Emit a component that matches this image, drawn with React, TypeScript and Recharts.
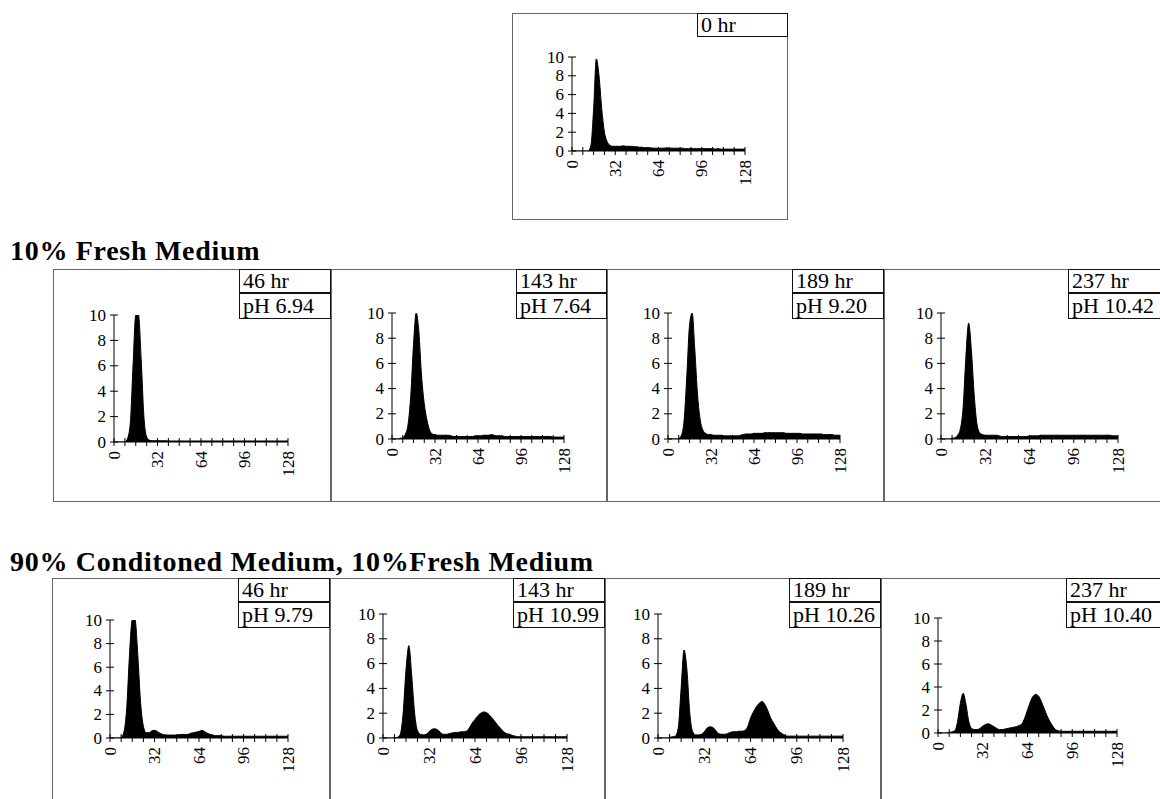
import { AreaChart, Area, XAxis, YAxis } from "recharts";

// channel number (x) shared by all histograms, step 2
const channels = [
  0, 2, 4, 6, 8, 10, 12, 14, 16, 18, 20, 22, 24, 26, 28, 30, 32, 34, 36, 38, 40, 42,
  44, 46, 48, 50, 52, 54, 56, 58, 60, 62, 64, 66, 68, 70, 72, 74, 76, 78, 80, 82, 84,
  86, 88, 90, 92, 94, 96, 98, 100, 102, 104, 106, 108, 110, 112, 114, 116, 118, 120,
  122, 124, 126, 128,
];

const xTicks = [0, 8, 16, 24, 32, 40, 48, 56, 64, 72, 80, 88, 96, 104, 112, 120, 128];
const yTicks = [0, 2, 4, 6, 8, 10];

// 0 hr
const hr0 = [
  0, 0, 0, 0, 0, 0, 0, 0.6,
  4.5, 9.8, 8, 4.5, 2, 1, 0.6, 0.5,
  0.5, 0.5, 0.5, 0.55, 0.5, 0.5, 0.5, 0.45,
  0.45, 0.4, 0.4, 0.35, 0.35, 0.35, 0.3, 0.3,
  0.3, 0.3, 0.3, 0.35, 0.3, 0.3, 0.3, 0.3,
  0.3, 0.3, 0.25, 0.25, 0.3, 0.25, 0.25, 0.25,
  0.25, 0.25, 0.25, 0.25, 0.25, 0.2, 0.25, 0.2,
  0.2, 0.2, 0.2, 0.2, 0.2, 0.2, 0.2, 0.2,
  0.2,
];

// 10% fresh medium
const fresh46 = [
  0, 0, 0, 0, 0, 0.3, 1.5, 6,
  10, 10, 6.5, 2, 0.4, 0.15, 0.1, 0.1,
  0.1, 0.1, 0.1, 0.1, 0.08, 0.08, 0.08, 0.08,
  0.08, 0.08, 0.08, 0.08, 0.08, 0.08, 0.08, 0.08,
  0.08, 0.08, 0.08, 0.08, 0.08, 0.08, 0.08, 0.08,
  0.08, 0.08, 0.08, 0.08, 0.08, 0.08, 0.08, 0.08,
  0.08, 0.08, 0.08, 0.08, 0.08, 0.08, 0.08, 0.08,
  0.08, 0.08, 0.08, 0.08, 0.08, 0.08, 0.08, 0.08,
  0.08,
];
const fresh143 = [
  0, 0, 0, 0.05, 0.1, 0.4, 1.2, 3.5,
  7.5, 10, 8.5, 5, 2.8, 1.5, 0.7, 0.4,
  0.35, 0.3, 0.3, 0.3, 0.3, 0.3, 0.25, 0.2,
  0.2, 0.2, 0.2, 0.2, 0.2, 0.2, 0.2, 0.25,
  0.25, 0.25, 0.3, 0.3, 0.3, 0.35, 0.3, 0.25,
  0.25, 0.25, 0.2, 0.2, 0.2, 0.2, 0.2, 0.2,
  0.2, 0.2, 0.2, 0.2, 0.2, 0.2, 0.2, 0.2,
  0.2, 0.2, 0.2, 0.2, 0.15, 0.15, 0.15, 0.15,
  0.15,
];
const fresh189 = [
  0, 0, 0, 0, 0.05, 0.3, 1.5, 5,
  9, 10, 7, 3.5, 1.5, 0.7, 0.45, 0.35,
  0.35, 0.3, 0.3, 0.3, 0.3, 0.25, 0.25, 0.25,
  0.25, 0.25, 0.25, 0.3, 0.35, 0.4, 0.4, 0.4,
  0.45, 0.45, 0.45, 0.45, 0.5, 0.5, 0.5, 0.5,
  0.5, 0.5, 0.5, 0.5, 0.45, 0.45, 0.45, 0.45,
  0.45, 0.45, 0.4, 0.4, 0.4, 0.4, 0.4, 0.4,
  0.4, 0.4, 0.35, 0.35, 0.35, 0.35, 0.3, 0.3,
  0.3,
];
const fresh237 = [
  0, 0, 0, 0, 0.05, 0.1, 0.3, 0.8,
  2.5, 6.5, 9.2, 7, 3.5, 1.2, 0.5, 0.35,
  0.3, 0.3, 0.3, 0.3, 0.3, 0.25, 0.2, 0.2,
  0.2, 0.2, 0.2, 0.2, 0.2, 0.2, 0.2, 0.2,
  0.25, 0.25, 0.25, 0.25, 0.3, 0.3, 0.3, 0.3,
  0.3, 0.3, 0.3, 0.3, 0.3, 0.3, 0.3, 0.3,
  0.3, 0.3, 0.3, 0.3, 0.3, 0.3, 0.3, 0.3,
  0.3, 0.3, 0.3, 0.3, 0.3, 0.3, 0.25, 0.25,
  0.25,
];

// 90% conditioned medium, 10% fresh medium
const cond46 = [
  0, 0, 0, 0, 0.05, 0.5, 2.5, 7,
  10, 10, 7, 3, 1, 0.45, 0.45, 0.6,
  0.65, 0.55, 0.4, 0.3, 0.25, 0.25, 0.25, 0.25,
  0.25, 0.3, 0.3, 0.3, 0.3, 0.4, 0.45, 0.5,
  0.55, 0.65, 0.55, 0.4, 0.3, 0.25, 0.2, 0.2,
  0.2, 0.15, 0.15, 0.15, 0.15, 0.15, 0.15, 0.15,
  0.15, 0.15, 0.15, 0.15, 0.15, 0.15, 0.15, 0.15,
  0.15, 0.15, 0.15, 0.15, 0.15, 0.15, 0.15, 0.15,
  0.15,
];
const cond143 = [
  0, 0, 0, 0, 0.03, 0.05, 0.3, 2,
  5.5, 7.45, 5, 2, 0.6, 0.3, 0.25, 0.3,
  0.5, 0.7, 0.75, 0.65, 0.45, 0.3, 0.3, 0.35,
  0.4, 0.45, 0.45, 0.5, 0.5, 0.55, 0.8, 1.2,
  1.5, 1.8, 2.0, 2.1, 2.05, 1.85, 1.6, 1.3,
  1.0, 0.75, 0.5, 0.35, 0.3, 0.2, 0.15, 0.1,
  0.1, 0.1, 0.1, 0.1, 0.1, 0.1, 0.1, 0.1,
  0.1, 0.1, 0.1, 0.1, 0.1, 0.1, 0.1, 0.1,
  0.1,
];
const cond189 = [
  0, 0, 0, 0, 0.05, 0.1, 0.15, 0.8,
  4, 7.1, 5.5, 2, 0.5, 0.25, 0.25, 0.3,
  0.5, 0.8, 0.9, 0.85, 0.6, 0.35, 0.3, 0.3,
  0.35, 0.45, 0.5, 0.5, 0.55, 0.55, 0.6, 0.9,
  1.6, 2.1, 2.5, 2.8, 2.95, 2.7, 2.2, 1.6,
  1.2, 0.8, 0.5, 0.35, 0.2, 0.15, 0.15, 0.15,
  0.15, 0.15, 0.15, 0.15, 0.15, 0.15, 0.15, 0.15,
  0.15, 0.15, 0.15, 0.15, 0.15, 0.15, 0.15, 0.15,
  0.15,
];
const cond237 = [
  0, 0, 0, 0, 0.05, 0.1, 0.2, 1,
  2.6, 3.45, 2.5, 1, 0.4, 0.3, 0.3, 0.4,
  0.6, 0.75, 0.8, 0.7, 0.55, 0.4, 0.3, 0.3,
  0.35, 0.4, 0.45, 0.5, 0.55, 0.65, 0.8, 1.3,
  2.0, 2.7, 3.2, 3.35, 3.2, 2.7, 2.1, 1.5,
  1.0, 0.6, 0.3, 0.2, 0.15, 0.15, 0.15, 0.15,
  0.15, 0.15, 0.15, 0.15, 0.15, 0.15, 0.15, 0.15,
  0.15, 0.15, 0.15, 0.15, 0.15, 0.15, 0.15, 0.15,
  0.15,
];

const FONT = '"Liberation Serif", "Times New Roman", serif';

// layout: box = [left, top, width, height], plot = [x0, xEnd, yTop, yBottom], lab = [left, top, width]
const panels = [
  { id: "hr0", values: hr0, labels: ["0 hr"], box: [512, 13, 276, 207], plot: [572, 745, 57, 151], lab: [697, 13, 91] },
  { id: "f46", values: fresh46, labels: ["46 hr", "pH 6.94"], box: [53, 269, 278, 233], plot: [114, 288, 315, 442], lab: [239, 269, 92] },
  { id: "f143", values: fresh143, labels: ["143 hr", "pH 7.64"], box: [331, 269, 276, 233], plot: [392, 564, 313, 439], lab: [516, 269, 91] },
  { id: "f189", values: fresh189, labels: ["189 hr", "pH 9.20"], box: [607, 269, 277, 233], plot: [668, 840, 313, 439], lab: [792, 269, 92] },
  { id: "f237", values: fresh237, labels: ["237 hr", "pH 10.42"], box: [884, 269, 290, 233], plot: [941, 1118, 313, 439], lab: [1068, 269, 100] },
  { id: "c46", values: cond46, labels: ["46 hr", "pH 9.79"], box: [52, 578, 278, 240], plot: [110, 288, 620, 738], lab: [238, 578, 92] },
  { id: "c143", values: cond143, labels: ["143 hr", "pH 10.99"], box: [330, 578, 275, 240], plot: [383, 567, 614, 738], lab: [513, 578, 92] },
  { id: "c189", values: cond189, labels: ["189 hr", "pH 10.26"], box: [605, 578, 276, 240], plot: [658, 843, 614, 738], lab: [789, 578, 92] },
  { id: "c237", values: cond237, labels: ["237 hr", "pH 10.40"], box: [881, 578, 290, 240], plot: [938, 1117, 618, 733], lab: [1066, 578, 100] },
];

function XTick(props: any) {
  const { x, y, payload } = props;
  const v = payload.value;
  return (
    <g>
      <line x1={x} x2={x} y1={y - 4} y2={y + 4} stroke="#000" strokeWidth={1} />
      {v % 32 === 0 && (
        <text
          x={x}
          y={y + 9}
          transform={`rotate(-90 ${x} ${y + 9})`}
          textAnchor="end"
          dominantBaseline="central"
          fontFamily={FONT}
          fontSize={17}
          fill="#000"
        >
          {v}
        </text>
      )}
    </g>
  );
}

function YTick(props: any) {
  const { x, y, payload } = props;
  return (
    <g>
      <line x1={x - 4} x2={x + 4} y1={y} y2={y} stroke="#000" strokeWidth={1} />
      <text
        x={x - 8}
        y={y}
        textAnchor="end"
        dominantBaseline="central"
        fontFamily={FONT}
        fontSize={17}
        fill="#000"
      >
        {payload.value}
      </text>
    </g>
  );
}

function Panel({ p }: { p: (typeof panels)[number] }) {
  const [bx, by, bw, bh] = p.box;
  const [x0, x1, yTop, yBot] = p.plot;
  const [lx, ly, lw] = p.lab;
  const data = channels.map((ch, i) => ({ ch, v: p.values[i] }));
  const rowH = [24, 26];
  return (
    <>
      <div
        style={{
          position: "absolute",
          left: bx,
          top: by,
          width: bw,
          height: bh,
          border: "1px solid #666",
          boxSizing: "border-box",
        }}
      />
      <div style={{ position: "absolute", left: x0 - 40, top: yTop - 10 }}>
        <AreaChart
          width={x1 - x0 + 50}
          height={yBot - yTop + 60}
          data={data}
          margin={{ top: 10, right: 10, left: 0, bottom: 0 }}
        >
          <XAxis
            dataKey="ch"
            type="number"
            domain={[0, 128]}
            ticks={xTicks}
            interval={0}
            height={50}
            tickSize={0}
            tickMargin={0}
            tickLine={false}
            axisLine={{ stroke: "#000" }}
            tick={XTick}
          />
          <YAxis
            type="number"
            domain={[0, 10]}
            ticks={yTicks}
            interval={0}
            width={40}
            allowDataOverflow
            tickSize={0}
            tickMargin={0}
            tickLine={false}
            axisLine={{ stroke: "#000" }}
            tick={YTick}
          />
          <Area
            type="monotone"
            dataKey="v"
            baseValue={0}
            stroke="#000"
            strokeWidth={1}
            fill="#000"
            fillOpacity={1}
            dot={false}
            activeDot={false}
            isAnimationActive={false}
          />
        </AreaChart>
      </div>
      {p.labels.map((t, i) => (
        <div
          key={t}
          style={{
            position: "absolute",
            left: lx,
            top: ly + (i === 0 ? 0 : rowH[0]),
            width: lw,
            height: rowH[i],
            border: "1px solid #111",
            boxSizing: "border-box",
            background: "#fff",
            fontFamily: FONT,
            fontSize: 22,
            lineHeight: `${rowH[i] - 2}px`,
            paddingLeft: 3,
            color: "#000",
            whiteSpace: "nowrap",
          }}
        >
          {t}
        </div>
      ))}
    </>
  );
}

const titleStyle: React.CSSProperties = {
  position: "absolute",
  left: 10,
  fontFamily: FONT,
  fontWeight: "bold",
  fontSize: 28,
  letterSpacing: 0.7,
  color: "#000",
  whiteSpace: "nowrap",
  lineHeight: "30px",
};

export default function App() {
  return (
    <div
      style={{
        position: "absolute",
        left: 0,
        top: 0,
        width: 1160,
        height: 799,
        overflow: "hidden",
        background: "#fff",
      }}
    >
      <div style={{ ...titleStyle, top: 236 }}>10% Fresh Medium</div>
      <div style={{ ...titleStyle, top: 547 }}>90% Conditoned Medium, 10%Fresh Medium</div>
      {panels.map((p) => (
        <Panel key={p.id} p={p} />
      ))}
    </div>
  );
}
